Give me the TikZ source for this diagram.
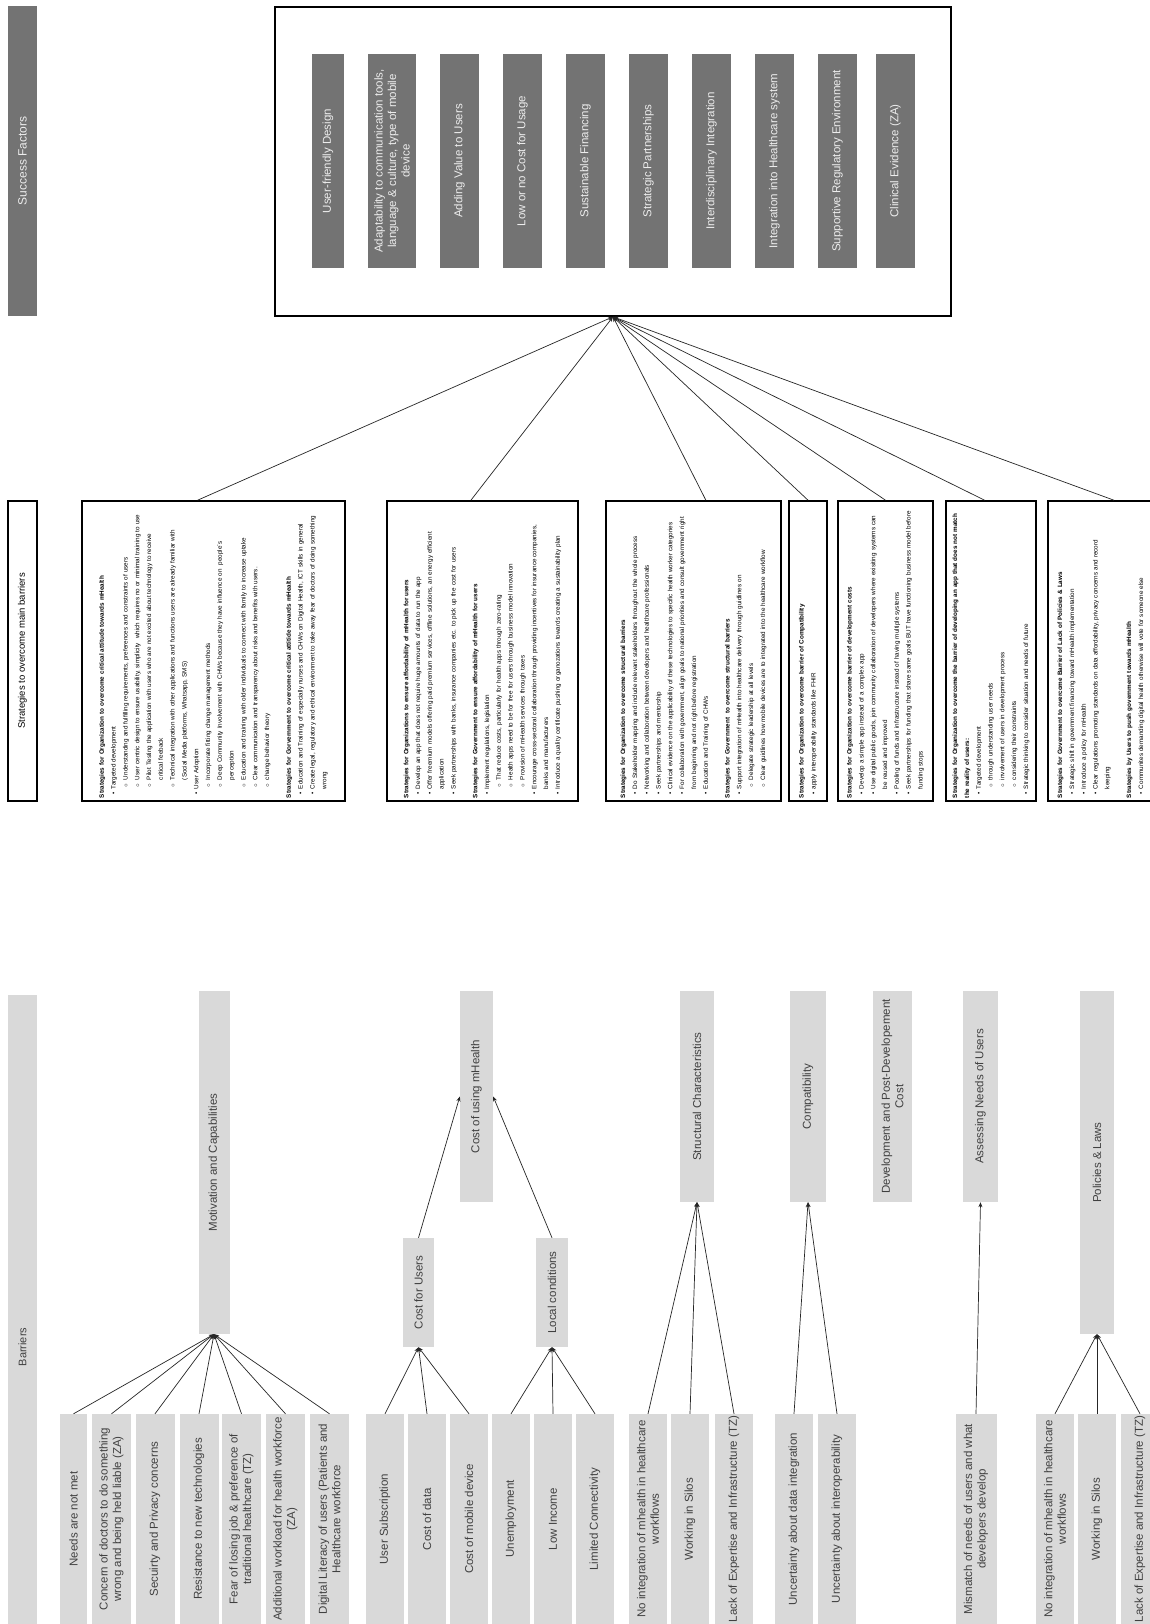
\documentclass[tikz,border=0pt]{standalone}
\usepackage{fontspec}
\setmainfont{Liberation Sans}
\usepackage{enumitem}
\usetikzlibrary{arrows.meta, positioning, calc}

\definecolor{sfgray}{HTML}{737373}
\definecolor{sftext}{HTML}{EDEDED}
\definecolor{bargray}{HTML}{D9D9D9}
\definecolor{bartext}{HTML}{404040}
\definecolor{linegray}{HTML}{262626}

\setlist[itemize]{nosep, leftmargin=9pt, labelsep=3.5pt}
\setlist[itemize,1]{label=\textbullet}
\setlist[itemize,2]{label=$\circ$, leftmargin=9pt}

\begin{document}
\begin{tikzpicture}[
  x=1pt, y=-1pt,
  sfbar/.style={rotate=90, fill=sfgray, text=sftext, minimum width=310, minimum height=29, inner sep=0pt, font=\fontsize{12}{14}\selectfont},
  bigbox/.style={draw, line width=1.6pt, minimum width=676, minimum height=309},
  factor/.style={rotate=90, fill=sfgray, text=sftext, minimum width=214, inner sep=1pt, align=center, font=\fontsize{11.5}{13.5}\selectfont},
  stbar/.style={rotate=90, draw, line width=1.5pt, minimum width=300, minimum height=29, inner sep=0pt, font=\fontsize{9.5}{11}\selectfont},
  sbox/.style={rotate=90, draw, line width=1.6pt, minimum width=300, text width=294, inner xsep=3pt, inner ysep=0pt, align=left, font=\fontsize{6.3}{11.8}\selectfont},
  bbar/.style={rotate=90, fill=bargray, text=bartext, minimum width=704, minimum height=29, inner sep=0pt, font=\fontsize{11}{13}\selectfont},
  mid/.style={rotate=90, fill=bargray, text=bartext, align=center, inner sep=1pt, font=\fontsize{11.5}{13.5}\selectfont},
  leaf/.style={rotate=90, fill=bargray, text=bartext, align=center, minimum width=210, minimum height=39, inner sep=1pt, font=\fontsize{11.5}{13.5}\selectfont},
  arrow/.style={-{Stealth[length=5pt, width=4pt]}, line width=0.7pt, draw=linegray}
]
  \useasboundingbox (0,0) rectangle (1150,1624);
  \clip (0,0) rectangle (1150,1624);
  \fill[white] (0,0) rectangle (1150,1624);

  % success factors
  \node[sfbar] (sf) at (22.5,161) {Success Factors};
  \node[bigbox] (big) at (613,161.5) {};
  \node[factor, minimum height=32] (f1) at (328,161) {User-friendly Design};
  \node[factor, minimum height=48] (f2) at (392,161) {Adaptability to communication tools,\\language \& culture, type of mobile\\device};
  \node[factor, minimum height=39] (f3) at (459.5,161) {Adding Value to Users};
  \node[factor, minimum height=39] (f4) at (522.5,161) {Low or no Cost for Usage};
  \node[factor, minimum height=39] (f5) at (585.5,161) {Sustainable Financing};
  \node[factor, minimum height=39] (f6) at (648.5,161) {Strategic Partnerships};
  \node[factor, minimum height=39] (f7) at (711.5,161) {Interdisciplinary Integration};
  \node[factor, minimum height=39] (f8) at (774.5,161) {Integration into Healthcare system};
  \node[factor, minimum height=39] (f9) at (837.5,161) {Supportive Regulatory Environment};
  \node[factor, minimum height=39] (f10) at (895.5,161) {Clinical Evidence (ZA)};

  % strategies
  \node[stbar] (sb) at (22.5,651) {Strategies to overcome main barriers};
  \node[sbox, minimum height=263] (s1) at (213.5,651) {%
    \textbf{Strategies for Organization to overcome critical attitude towards mHealth}
    \begin{itemize}
      \item Targeted development
      \begin{itemize}
        \item Understanding and fulfilling requirements, preferences and constraints of users
        \item User centric design to ensure usability, simplicity\ \ which requires no or minimal training to use
        \item Pilot Testing the application with users who are not excited about technology to receive\newline critical feeback
        \item Technical integration with other applications and functions users are already familiar with\newline (Social Media platforms, Whatsapp, SMS)
      \end{itemize}
      \item User Adoption
      \begin{itemize}
        \item Incorporate fitting change management methods
        \item Deep Community Involvement with CHWs because they have influence on\ \ people´s\newline perception
        \item Education and training with older individuals to connect with family to increase uptake
        \item Clear communication and transparency about risks and benefits with users.
        \item change behavior theory
      \end{itemize}
    \end{itemize}
    \vspace{10pt}
    \textbf{Strategies for Gorvernment to overcome critical attitide towards mHealth}
    \begin{itemize}
      \item Education and Training of especially nurses and CHWs on Digital Health, ICT skills in general
      \item Create legal, regulatory and ethical environment to take away fear of doctors of doing something\newline wrong
    \end{itemize}};
  \node[sbox, minimum height=191] (s2) at (482.5,651) {%
    \textbf{Strategies for Organizations to ensure affordability of mHealth for users}
    \begin{itemize}
      \item Develop an app that does not require huge amounts of data to run the app
      \item Offer freemium models offering paid premium services, offline solutions, an energy efficient\newline application
      \item Seek partnerships with banks, insurance companies etc. to pick up the cost for users
    \end{itemize}
    \vspace{10pt}
    \textbf{Strategies for Government to ensure affordability of mHealth for users}
    \begin{itemize}
      \item Implement regulations, legislation
      \begin{itemize}
        \item That reduce costs, particularly for health apps through zero-rating
        \item Health apps need to be for free for users through business model innovation
        \item Provision of mHealth services through taxes
      \end{itemize}
      \item Encourage cross-sectoral collaboration through providing incentives for insurance companies,\newline banks and manufacturers
      \item Introduce a quality certificate pushing organozations towards creating a sustainability plan
    \end{itemize}};
  \node[sbox, minimum height=175] (s3) at (693.5,651) {%
    \textbf{Strategies for Organization to overcome structural barriers}
    \begin{itemize}
      \item Do Stakeholder mapping and include relevant stakeholders throughout the whole process
      \item Networking and collaboration between developers and healthcare professionals
      \item Seek partnerships and mentorship
      \item Clinical evidence on the applicability of these technologies to specific health worker categories
      \item For collaboration with government, align goals to national priorities and consult government right\newline from beginning and not right before registration
      \item Education and Training of CHWs
    \end{itemize}
    \vspace{10pt}
    \textbf{Strategies for Government\ \ to overcome structural barriers}
    \begin{itemize}
      \item Support integration of mHealth into healthcare delivery through guidlines on
      \begin{itemize}
        \item Delegate strategic leadership at all levels
        \item Clear guidlines how mobile devices are to integrated into the healthcare workflow
      \end{itemize}
    \end{itemize}};
  \node[sbox, minimum height=38] (s4) at (808,651) {%
    \textbf{Strategies for Organization to overcome barrier of Compatibility}
    \begin{itemize}
      \item apply interoperability standards like FHIR
    \end{itemize}};
  \node[sbox, minimum height=95] (s5) at (885.5,651) {%
    \textbf{Strategies for Organization to overcome barrier of development costs}
    \begin{itemize}
      \item Develop a simple app instead of a complex app
      \item Use digital public goods, join community collaboration of developers where exisiting systems can\newline be reused and improved
      \item Pooling of funds and infrastructure instead of having multiple systems
      \item Seek partnerships for funding that share same goals BUT have functioning business model before\newline funding stops
    \end{itemize}};
  \node[sbox, minimum height=90] (s6) at (991,651) {%
    \textbf{Strategies for Organization to overcome the barrier of developing an app that does not match\newline the reality of users:}
    \begin{itemize}
      \item Targeted development
      \begin{itemize}
        \item through understanding user needs
        \item involvement of users in development process
        \item considering their constraints
      \end{itemize}
      \item Strategic thinking to consider situation and needs of future
    \end{itemize}};
  \node[sbox, minimum height=106] (s7) at (1101,651) {%
    \textbf{Strategies for Government to overcome Barrier of Lack of Policies \& Laws}
    \begin{itemize}
      \item Strategic shift in government financing toward mHealth implementation
      \item Introduce a policy for mHealth
      \item Clear regulations promoting standards on data affordability, privacy concerns and record\newline keeping
    \end{itemize}
    \vspace{10pt}
    \textbf{Strategies by Users to push government towards mHealth}
    \begin{itemize}
      \item Communites demanding digital health otherwise will vote for someone else
    \end{itemize}};

  \draw[arrow] ($(s1.north east)!0.44!(s1.south east)$) -- (big.south);
  \draw[arrow] ($(s2.north east)!0.44!(s2.south east)$) -- (big.south);
  \draw[arrow] ($(s3.north east)!0.57!(s3.south east)$) -- (big.south);
  \draw[arrow] (s4.east) -- (big.south);
  \draw[arrow] (s5.east) -- (big.south);
  \draw[arrow] ($(s6.north east)!0.43!(s6.south east)$) -- (big.south);
  \draw[arrow] ($(s7.north east)!0.62!(s7.south east)$) -- (big.south);

  % barriers
  \node[bbar] (bb) at (22.5,1347) {Barriers};
  \node[mid, minimum width=343, minimum height=31] (mot) at (214,1162.5) {Motivation and Capabilities};
  \node[mid, minimum width=211, minimum height=33] (cuse) at (476.5,1096.5) {Cost of using mHealth};
  \node[mid, minimum width=109, minimum height=31] (cusr) at (418.5,1292.5) {Cost for Users};
  \node[mid, minimum width=109, minimum height=32] (loc) at (552,1292.5) {Local conditions};
  \node[mid, minimum width=211, minimum height=34] (str) at (697,1096.5) {Structural Characteristics};
  \node[mid, minimum width=211, minimum height=36] (comp) at (808,1096.5) {Compatibility};
  \node[mid, minimum width=211, minimum height=39] (dev) at (892.5,1096.5) {Development and Post-Developement\\Cost};
  \node[mid, minimum width=211, minimum height=35] (ass) at (980.5,1096.5) {Assessing Needs of Users};
  \node[mid, minimum width=343, minimum height=34] (pol) at (1097,1162.5) {Policies \& Laws};

  \node[leaf, minimum height=27] (l1) at (73.5,1519) {Needs are not met};
  \node[leaf] (l2) at (111.5,1519) {Concern of doctors to do something\\wrong and being held liable (ZA)};
  \node[leaf] (l3) at (155,1519) {Secuirty and Privacy concerns};
  \node[leaf] (l4) at (199,1519) {Resistance to new technologies};
  \node[leaf] (l5) at (241.5,1519) {Fear of losing job \& preference of\\traditional healthcare (TZ)};
  \node[leaf] (l6) at (285.5,1519) {Additional workload for health workforce\\(ZA)};
  \node[leaf] (l7) at (329.5,1519) {Digital Literacy of users (Patients and\\Healthcare workforce};
  \node[leaf, minimum height=38] (l8) at (385,1519) {User Subscription};
  \node[leaf, minimum height=38] (l9) at (427,1519) {Cost of data};
  \node[leaf, minimum height=38] (l10) at (469,1519) {Cost of mobile device};
  \node[leaf, minimum height=38] (l11) at (511,1519) {Unemployment};
  \node[leaf, minimum height=38] (l12) at (553,1519) {Low Income};
  \node[leaf, minimum height=38] (l13) at (595,1519) {Limited Connectivity};
  \node[leaf, minimum height=38] (l14) at (648,1519) {No integration of mhealth in healthcare\\workflows};
  \node[leaf, minimum height=38] (l15) at (690,1519) {Working in Silos};
  \node[leaf, minimum height=38] (l16) at (734,1519) {Lack of Expertise and Infrastructure (TZ)};
  \node[leaf, minimum height=38] (l17) at (794,1519) {Uncertainty about data integration};
  \node[leaf, minimum height=38] (l18) at (837,1519) {Uncertainty about interoperability};
  \node[leaf, minimum height=41] (l19) at (976,1519) {Mismatch of needs of users and what\\developers develop};
  \node[leaf, minimum height=38] (l20) at (1055,1519) {No integration of mhealth in healthcare\\workflows};
  \node[leaf, minimum height=38] (l21) at (1097,1519) {Working in Silos};
  \node[leaf, minimum height=38] (l22) at (1140,1519) {Lack of Expertise and Infrastructure (TZ)};

  \draw[arrow] (l1.east) -- (mot.west);
  \draw[arrow] (l2.east) -- (mot.west);
  \draw[arrow] (l3.east) -- (mot.west);
  \draw[arrow] (l4.east) -- (mot.west);
  \draw[arrow] (l5.east) -- (mot.west);
  \draw[arrow] (l6.east) -- (mot.west);
  \draw[arrow] (l7.east) -- (mot.west);
  \draw[arrow] (l8.east) -- (cusr.west);
  \draw[arrow] (l9.east) -- (cusr.west);
  \draw[arrow] (l10.east) -- (cusr.west);
  \draw[arrow] (l11.east) -- (loc.west);
  \draw[arrow] (l12.east) -- (loc.west);
  \draw[arrow] (l13.east) -- (loc.west);
  \draw[arrow] (cusr.east) -- (cuse.north);
  \draw[arrow] (loc.east) -- (cuse.south);
  \draw[arrow] (l14.east) -- (str.west);
  \draw[arrow] (l15.east) -- (str.west);
  \draw[arrow] (l16.east) -- (str.west);
  \draw[arrow] (l17.east) -- (comp.west);
  \draw[arrow] (l18.east) -- (comp.west);
  \draw[arrow] (l19.east) -- (ass.west);
  \draw[arrow] (l20.east) -- (pol.west);
  \draw[arrow] (l21.east) -- (pol.west);
  \draw[arrow] (l22.east) -- (pol.west);
\end{tikzpicture}
\end{document}
